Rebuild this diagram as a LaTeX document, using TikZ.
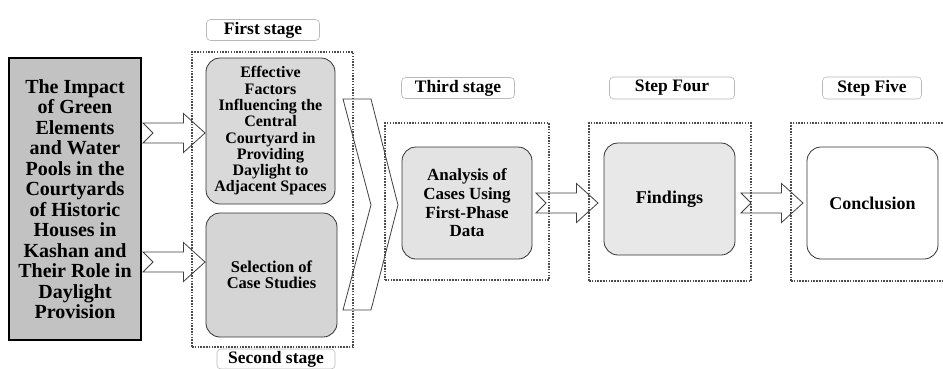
\documentclass[tikz,border=0pt]{standalone}
\usepackage{fontspec}
\setmainfont{Liberation Serif}
\begin{document}
\begin{tikzpicture}[x=1pt,y=-1pt,
  lbl/.style={draw=gray!55, line width=0.6pt, rounded corners=4pt, fill=white,
    font=\bfseries\fontsize{17.5}{18}\selectfont, inner sep=0pt, minimum height=21pt},
  stagebox/.style={draw=black!70, line width=1.5pt, dash pattern=on 1.5pt off 1.3pt, inner sep=0pt},
  rbox/.style={draw=black!80, line width=0.8pt, rounded corners=14pt, align=center, inner sep=0pt},
  blk/.style={draw=black!75, fill=white, line width=0.8pt, line join=miter},
  blockarrow/.pic={\draw[blk] (-62,-10) -- (-21.5,-10) -- (-21.5,-19.5) -- (0,0) -- (-21.5,19.5) -- (-21.5,10) -- (-62,10) -- (-52,0) -- cycle;}
]
\useasboundingbox (0,0) rectangle (943,368);

% block arrows (drawn first, dotted frames go over them)
\pic at (205,133) {blockarrow};
\pic at (205,262) {blockarrow};
\pic at (598,203) {blockarrow};
\pic at (803,203) {blockarrow};

% chevron
\draw[blk] (343,99) -- (371,99) -- (398,205) -- (371,310) -- (343,310) -- (371,205) -- cycle;

% stage frames
\node[stagebox, minimum width=161, minimum height=295] (s1) at (272.5,199.5) {};
\node[stagebox, minimum width=164, minimum height=157] (s3) at (467,201.5) {};
\node[stagebox, minimum width=162, minimum height=158] (s4) at (670,202) {};
\node[stagebox, minimum width=162, minimum height=158] (s5) at (872,202) {};

% topic box
\node[draw=black, line width=2.6pt, fill=gray!48, minimum width=132, minimum height=282,
  align=center, inner sep=0pt, font=\bfseries\fontsize{20}{20.5}\selectfont] (topic) at (75,199)
  {The Impact\\of Green\\Elements\\and Water\\Pools in the\\Courtyards\\of Historic\\Houses in\\Kashan and\\Their Role in\\Daylight\\Provision};

% rounded boxes
\node[rbox, fill=gray!30, minimum width=129, minimum height=146,
  font=\bfseries\fontsize{16}{16.3}\selectfont] (eff) at (270.5,131)
  {Effective\\Factors\\Influencing the\\Central\\Courtyard in\\Providing\\Daylight to\\Adjacent Spaces};
\node[rbox, fill=gray!33, minimum width=131, minimum height=124,
  font=\bfseries\fontsize{16.5}{16.5}\selectfont] (sel) at (271.5,275)
  {Selection of\\Case Studies};
\node[rbox, fill=gray!22, minimum width=130, minimum height=112,
  font=\bfseries\fontsize{17}{18.7}\selectfont] (ana) at (467,203)
  {Analysis of\\Cases Using\\First-Phase\\Data};
\node[rbox, fill=gray!18, minimum width=131, minimum height=112,
  font=\bfseries\fontsize{18}{18}\selectfont] (fin) at (669.5,199)
  {Findings};
\node[rbox, fill=white, minimum width=131, minimum height=112,
  font=\bfseries\fontsize{18}{18}\selectfont] (con) at (872.5,203)
  {Conclusion};

% labels
\node[lbl, minimum width=113] (l1) at (263,30) {First stage};
\node[lbl, minimum width=118, minimum height=20] (l2) at (276,359) {Second stage};
\node[lbl, minimum width=113] (l3) at (458,88) {Third stage};
\node[lbl, minimum width=125, minimum height=22] (l4) at (672,88) {Step Four};
\node[lbl, minimum width=99, minimum height=22] (l5) at (872,88) {Step Five};
\end{tikzpicture}
\end{document}
